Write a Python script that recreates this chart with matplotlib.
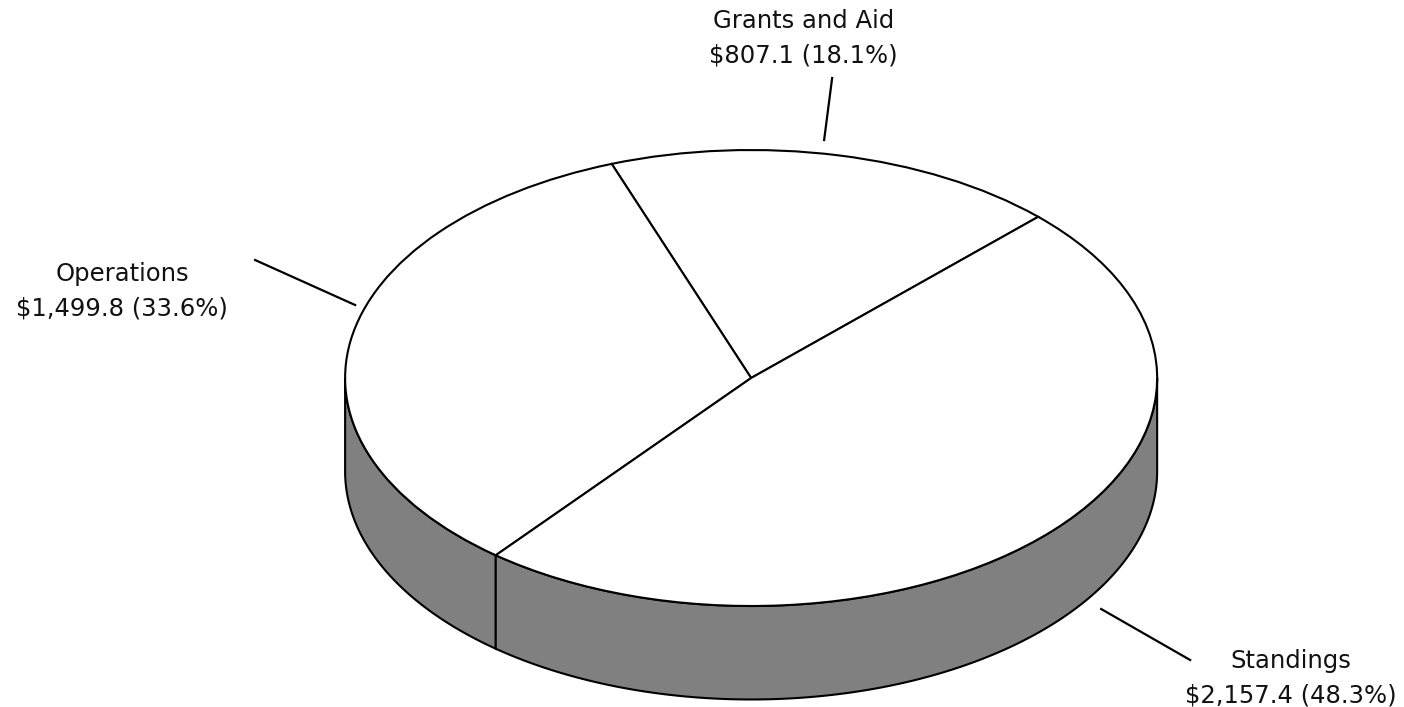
import numpy as np
import matplotlib.pyplot as plt

# budget split (values in $ millions)
categories = ["Grants and Aid", "Operations", "Standings"]
values = [807.1, 1499.8, 2157.4]
pct_labels = ["$807.1 (18.1%)", "$1,499.8 (33.6%)", "$2,157.4 (48.3%)"]

start_angle = 45
depth = 0.41  # pie thickness, in units of the vertical radius
side_color = "#808080"

fig = plt.figure(figsize=(14.04, 7.07), dpi=100)
ax = fig.add_axes([0, 0, 1, 1])

# top face
wedges, _ = ax.pie(values, startangle=start_angle, counterclock=True,
                   colors=["white"] * 3,
                   wedgeprops=dict(edgecolor="black", linewidth=1.5, zorder=3))

# side walls (only the front half, 180..360 deg, is visible)
fracs = np.cumsum([0] + values) / sum(values)
bounds = start_angle + 360 * fracs
cuts = [180] + [b % 360 for b in bounds if 180 < b % 360 < 360] + [360]
cuts = sorted(set(cuts))
for t0, t1 in zip(cuts[:-1], cuts[1:]):
    t = np.radians(np.linspace(t0, t1, 200))
    xs = np.concatenate([np.cos(t), np.cos(t[::-1])])
    ys = np.concatenate([np.sin(t), np.sin(t[::-1]) - depth])
    ax.fill(xs, ys, facecolor=side_color, edgecolor="black", linewidth=1.5, zorder=2)

ax.set_aspect("auto")
ax.set_xlim(-1.85, 1.608)
ax.set_ylim(-1.443, 1.658)
ax.axis("off")

# labels and leader lines
cx, cy, rx, ry = 751, 378, 406, 228


def to_data(px, py):
    return (px - cx) / rx, (cy - py) / ry


label_pos = [(803, 38), (122, 291), (1291, 678)]
leaders = [((832, 78), (824, 140)), ((255, 260), (355, 305)), ((1101, 609), (1190, 660))]

for name, pl, pos, (p0, p1) in zip(categories, pct_labels, label_pos, leaders):
    x, y = to_data(*pos)
    ax.text(x, y, name + "\n" + pl, ha="center", va="center",
            fontsize=17.5, linespacing=1.55, family="DejaVu Sans", color="#111111")
    a = to_data(*p0)
    b = to_data(*p1)
    ax.plot([a[0], b[0]], [a[1], b[1]], color="black", linewidth=1.6)

fig.savefig("out.png", dpi=100)
